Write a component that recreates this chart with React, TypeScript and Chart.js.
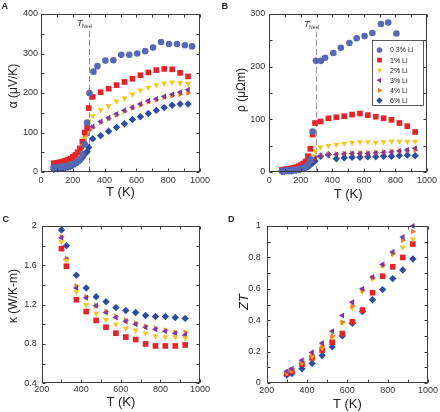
import React, { useEffect, useRef } from 'react';
import { Chart, registerables } from 'chart.js';
import { drawPoint } from 'chart.js/helpers';

Chart.register(...registerables);

const FONT = '"Liberation Sans", Arial, Helvetica, sans-serif';

// ---------- series identity ----------
const SERIES = ['0.3% Li', '1% Li', '2% Li', '3% Li', '4% Li', '6% Li'];
const COLORS = ['#5868b4', '#e4242b', '#f6c51f', '#7b3b9d', '#f07d2d', '#2d4e9e'];
const POINT_STYLES = ['circle', 'rect', 'triangle', 'triangle', 'triangle', 'rectRot'];
const ROTATIONS = [0, 0, 180, 270, 90, 0];
const RADII = [3.3, 4, 3.5, 3.5, 3.5, 3.7];

// ---------- temperatures (K) ----------
const T_LOW = [80, 95, 110, 125, 140, 155, 170, 185, 200, 215, 230, 245, 260, 275, 290];
const T_HIGH = [300, 325, 375, 425, 475, 525, 575, 625, 675, 725, 775, 825, 875, 925];
const T_HIGH_B = [325, 375, 425, 475, 525, 575, 625, 675, 725, 775, 825, 875, 925];
const T_A_CIRCLE = [305, 330, 355, 405, 455, 505, 555, 605, 655, 705, 755, 805, 855, 905, 950];
const T_B_CIRCLE = [296, 327, 354, 406, 454, 508, 554, 604, 654, 708, 754, 806];
const T_NEEL_A = 305;
const T_NEEL_B = 300;

// ---------- A: Seebeck α (μV/K) ----------
const A_CIRCLE_LOW = [11, 12, 12, 13, 14, 15, 16, 18, 20, 23, 27, 33, 45, 70, 125];
const A_CIRCLE_HIGH = [200, 254, 268, 282, 283, 297, 297, 300, 306, 315, 329, 324, 324, 321, 318];
const A_SQUARE_LOW = [22, 23, 24, 25, 27, 29, 31, 34, 38, 43, 50, 60, 77, 100, 112];
const A_SQUARE_HIGH = [162, 190, 202, 211, 220, 228, 236, 245, 252, 258, 261, 260, 251, 242];
const A_YELLOW_LOW = [18, 19, 20, 21, 22, 24, 26, 29, 33, 38, 45, 55, 68, 85, 100];
const A_YELLOW_HIGH = [128, 142, 157, 167, 179, 187, 197, 207, 214, 220, 225, 227, 226, 224];
const A_PURPLE_LOW = [15, 16, 17, 18, 20, 22, 24, 27, 31, 36, 43, 52, 64, 80, 98];
const A_PURPLE_HIGH = [108, 115, 128, 137, 147, 156, 164, 172, 180, 185, 191, 196, 202, 208];
const A_ORANGE_LOW = [20, 21, 22, 23, 25, 27, 29, 32, 36, 41, 48, 58, 72, 90, 104];
const A_ORANGE_HIGH = [106, 113, 126, 135, 145, 154, 162, 170, 178, 183, 189, 193, 197, 200];
const A_DIAMOND_LOW = [7, 8, 8, 9, 10, 11, 12, 14, 17, 20, 24, 29, 36, 45, 52];
const A_DIAMOND_HIGH = [62, 84, 92, 103, 113, 122, 133, 140, 148, 156, 163, 169, 172, 172];

// ---------- B: resistivity ρ (μΩm) ----------
const B_CIRCLE_LOW = [2, 2, 3, 3, 3, 4, 4, 5, 6, 8, 10, 14, 24, 77, null];
const B_CIRCLE_HIGH = [211, 211, 217, 226, 236, 245, 254, 258, 264, 281, 284, 263];
const B_SQUARE_LOW = [4, 5, 5, 6, 7, 8, 9, 11, 13, 16, 20, 30, 44, 71, 93];
const B_SQUARE_HIGH = [96, 102, 104, 106, 109, 111, 108, 105, 102, 99, 93, 87, 76];
const B_YELLOW_LOW = [3, 3, 4, 4, 5, 5, 6, 7, 8, 10, 12, 16, 22, 30, 40];
const B_YELLOW_HIGH = [47, 50, 52, 54, 56, 57, 57, 56, 57, 58, 58, 58, 58];
const B_PURPLE_LOW = [2, 3, 3, 3, 4, 4, 5, 6, 7, 8, 10, 13, 17, 22, 27];
const B_PURPLE_HIGH = [30, 32, 33, 34, 35, 35, 35, 36, 37, 38, 40, 42, 45];
const B_ORANGE_LOW = [3, 3, 4, 4, 5, 5, 6, 7, 8, 9, 11, 14, 19, 25, 28];
const B_ORANGE_HIGH = [31, 33, 34, 35, 36, 36, 36, 37, 38, 39, 40, 41, 42];
const B_DIAMOND_LOW = [1, 1, 2, 2, 2, 3, 3, 4, 5, 6, 8, 10, 13, 17, 21];
const B_DIAMOND_HIGH = [30, 33, 25, 27, 28, 28, 29, 29, 30, 30, 31, 32, 31];

// ---------- C: thermal conductivity κ (W/K-m) ----------
const C_SQUARE = [1.77, 1.59, 1.25, 1.13, 1.04, 0.97, 0.91, 0.87, 0.845, 0.8, 0.78, 0.78, 0.78, 0.79];
const C_YELLOW = [1.84, 1.65, 1.33, 1.2, 1.11, 1.05, 1.0, 0.96, 0.94, 0.91, 0.88, 0.87, 0.87, 0.86];
const C_PURPLE = [1.88, 1.66, 1.37, 1.27, 1.19, 1.12, 1.07, 1.03, 1.0, 0.97, 0.95, 0.93, 0.91, 0.89];
const C_ORANGE = [1.89, 1.67, 1.39, 1.28, 1.19, 1.13, 1.08, 1.04, 1.01, 0.98, 0.96, 0.94, 0.92, 0.92];
const C_DIAMOND = [1.96, 1.8, 1.5, 1.37, 1.28, 1.23, 1.17, 1.14, 1.12, 1.09, 1.08, 1.08, 1.07, 1.06];

// ---------- D: ZT ----------
const D_SQUARE = [0.06, 0.075, 0.12, 0.16, 0.21, 0.26, 0.315, 0.39, 0.465, 0.575, 0.68, 0.74, 0.8, 0.885];
const D_YELLOW = [0.065, 0.08, 0.13, 0.17, 0.225, 0.29, 0.385, 0.48, 0.585, 0.665, 0.745, 0.82, 0.865, 0.915];
const D_PURPLE = [0.075, 0.09, 0.145, 0.195, 0.255, 0.33, 0.43, 0.515, 0.6, 0.675, 0.755, 0.835, 0.93, 1.0];
const D_ORANGE = [0.07, 0.085, 0.135, 0.18, 0.235, 0.3, 0.385, 0.49, 0.59, 0.67, 0.75, 0.825, 0.91, 0.965];
const D_DIAMOND = [0.05, 0.06, 0.09, 0.125, 0.175, 0.23, 0.3, 0.38, 0.455, 0.53, 0.595, 0.665, 0.72, 0.79];

// ---------- helpers ----------
type Pt = { x: number; y: number };
function pts(xs: number[], ys: (number | null)[]): Pt[] {
  const out: Pt[] = [];
  xs.forEach((x, i) => {
    const y = ys[i];
    if (y !== null && y !== undefined) out.push({ x, y });
  });
  return out;
}

function seriesDataset(i: number, data: Pt[]) {
  return {
    label: SERIES[i],
    data,
    showLine: false,
    clip: false,
    pointStyle: POINT_STYLES[i],
    pointRotation: ROTATIONS[i],
    pointRadius: RADII[i],
    pointBorderWidth: 0,
    backgroundColor: COLORS[i],
    borderColor: COLORS[i],
  };
}

function neelDataset(t: number, yTop: number) {
  return {
    label: 'TNeel',
    data: [
      { x: t, y: 0 },
      { x: t, y: yTop },
    ],
    showLine: true,
    borderColor: '#8c8c8c',
    borderWidth: 1,
    borderDash: [6, 3],
    pointRadius: 0,
  };
}

type Panel = {
  letter: string;
  letterX: number;
  letterY: number;
  area: { left: number; top: number; right: number; bottom: number };
  xMin: number;
  xMax: number;
  xStep: number;
  xLabelStep: number;
  yMin: number;
  yMax: number;
  yStep: number;
  yLabelStep: number;
  xPad: number;
  yPad: number;
  yTitle: string;
  yTitleItalic?: boolean;
  yTitleX: number;
  yTitleY: number;
  yTitleSize: number;
  xTitleY: number;
  neel?: number;
  neelTextY?: number;
  legend?: boolean;
  datasets: any[];
};

function fmt(v: number): string {
  const r = Math.round(v * 1000) / 1000;
  if (Math.abs(r - Math.round(r)) < 1e-9) return String(Math.round(r));
  return r.toFixed(1);
}

function isMultiple(v: number, step: number) {
  const q = v / step;
  return Math.abs(q - Math.round(q)) < 1e-6;
}

function makeDecoPlugin(p: Panel) {
  return {
    id: 'deco' + p.letter,
    afterDatasetsDraw(chart: any) {
      const ctx: CanvasRenderingContext2D = chart.ctx;
      const a = chart.chartArea;
      const xs = chart.scales.x;
      const ys = chart.scales.y;
      ctx.save();
      // frame
      ctx.strokeStyle = '#3c3c3c';
      ctx.lineWidth = 1;
      const L = Math.round(a.left) + 0.5;
      const R = Math.round(a.right) - 0.5;
      const T = Math.round(a.top) + 0.5;
      const B = Math.round(a.bottom) - 0.5;
      ctx.strokeRect(L, T, R - L, B - T);
      // inward ticks
      ctx.beginPath();
      xs.ticks.forEach((t: any) => {
        const px = Math.round(xs.getPixelForValue(t.value)) + 0.5;
        ctx.moveTo(px, B);
        ctx.lineTo(px, B - 3);
        ctx.moveTo(px, T);
        ctx.lineTo(px, T + 3);
      });
      ys.ticks.forEach((t: any) => {
        const py = Math.round(ys.getPixelForValue(t.value)) + 0.5;
        ctx.moveTo(L, py);
        ctx.lineTo(L + 3, py);
        ctx.moveTo(R, py);
        ctx.lineTo(R - 3, py);
      });
      ctx.stroke();

      // legend
      if (p.legend) {
        const bx = 152.5, by = 40.5, bw = 51, bh = 65;
        ctx.fillStyle = '#ffffff';
        ctx.fillRect(bx, by, bw, bh);
        ctx.strokeStyle = '#333';
        ctx.lineWidth = 0.8;
        ctx.strokeRect(bx, by, bw, bh);
        ctx.font = `7px ${FONT}`;
        ctx.textBaseline = 'middle';
        ctx.textAlign = 'left';
        SERIES.forEach((s, i) => {
          const y = 50 + i * 10.1;
          ctx.fillStyle = COLORS[i];
          drawPoint(ctx, { pointStyle: POINT_STYLES[i], rotation: ROTATIONS[i], radius: RADII[i] * 0.85, borderWidth: 0 } as any, 159.5, y);
          ctx.fillStyle = '#222';
          ctx.fillText(s, 170, y + 0.5);
        });
      }
      ctx.restore();
    },
    afterDraw(chart: any) {
      const ctx: CanvasRenderingContext2D = chart.ctx;
      const a = chart.chartArea;
      const xs = chart.scales.x;
      ctx.save();
      ctx.fillStyle = '#222';
      // panel letter
      ctx.font = `bold 9px ${FONT}`;
      ctx.textAlign = 'left';
      ctx.textBaseline = 'top';
      ctx.fillText(p.letter, p.letterX, p.letterY);
      // x title
      ctx.font = `13px ${FONT}`;
      ctx.textAlign = 'center';
      ctx.textBaseline = 'middle';
      ctx.fillText('T (K)', (a.left + a.right) / 2, p.xTitleY);
      // y title
      ctx.save();
      ctx.translate(p.yTitleX, p.yTitleY);
      ctx.rotate(-Math.PI / 2);
      ctx.font = `${p.yTitleItalic ? 'italic ' : ''}${p.yTitleSize}px ${FONT}`;
      ctx.fillText(p.yTitle, 0, 0);
      ctx.restore();
      // T_Neel label
      if (p.neel !== undefined) {
        const px = xs.getPixelForValue(p.neel);
        const by = p.neelTextY ?? 26;
        ctx.fillStyle = '#333';
        ctx.textAlign = 'left';
        ctx.textBaseline = 'alphabetic';
        ctx.font = `italic 9px ${FONT}`;
        ctx.fillText('T', px - 12.5, by);
        ctx.font = `5px ${FONT}`;
        ctx.fillText('Neel', px - 7.5, by + 2);
      }
      ctx.restore();
    },
  };
}

function buildConfig(p: Panel): any {
  const W = 220, H = 206;
  const tickFont = { family: FONT, size: 9 };
  return {
    type: 'scatter',
    data: { datasets: p.datasets },
    options: {
      animation: false,
      responsive: false,
      devicePixelRatio: 1,
      events: [],
      layout: { padding: { left: 0, top: p.area.top, right: W - p.area.right, bottom: 0 } },
      plugins: { legend: { display: false }, tooltip: { enabled: false } },
      scales: {
        x: {
          type: 'linear',
          min: p.xMin,
          max: p.xMax,
          afterFit: (s: any) => {
            s.height = H - p.area.bottom;
          },
          grid: { display: false, drawTicks: false },
          border: { display: false },
          ticks: {
            stepSize: p.xStep,
            autoSkip: false,
            maxRotation: 0,
            padding: p.xPad,
            color: '#333',
            font: tickFont,
            callback: (v: number) => (isMultiple(v, p.xLabelStep) ? fmt(v) : ''),
          },
        },
        y: {
          type: 'linear',
          min: p.yMin,
          max: p.yMax,
          afterFit: (s: any) => {
            s.width = p.area.left;
          },
          grid: { display: false, drawTicks: false },
          border: { display: false },
          ticks: {
            stepSize: p.yStep,
            autoSkip: false,
            padding: p.yPad,
            color: '#333',
            font: tickFont,
            callback: (v: number) => (isMultiple(v, p.yLabelStep) ? fmt(v) : ''),
          },
        },
      },
    },
    plugins: [makeDecoPlugin(p)],
  };
}

// ---------- panels ----------
function panelA(): Panel {
  return {
    letter: 'A', letterX: 1.5, letterY: 2,
    area: { left: 41, top: 14, right: 200, bottom: 172 },
    xMin: 0, xMax: 1000, xStep: 100, xLabelStep: 200,
    yMin: 0, yMax: 400, yStep: 50, yLabelStep: 100,
    xPad: 3, yPad: 3,
    yTitle: 'α (μV/K)', yTitleX: 14, yTitleY: 86, yTitleSize: 12,
    xTitleY: 192,
    neel: T_NEEL_A, neelTextY: 26,
    datasets: [
      seriesDataset(0, [...pts(T_LOW, A_CIRCLE_LOW), ...pts(T_A_CIRCLE, A_CIRCLE_HIGH)]),
      seriesDataset(1, [...pts(T_LOW, A_SQUARE_LOW), ...pts(T_HIGH, A_SQUARE_HIGH)]),
      seriesDataset(2, [...pts(T_LOW, A_YELLOW_LOW), ...pts(T_HIGH, A_YELLOW_HIGH)]),
      seriesDataset(3, [...pts(T_LOW, A_PURPLE_LOW), ...pts(T_HIGH, A_PURPLE_HIGH)]),
      seriesDataset(4, [...pts(T_LOW, A_ORANGE_LOW), ...pts(T_HIGH, A_ORANGE_HIGH)]),
      seriesDataset(5, [...pts(T_LOW, A_DIAMOND_LOW), ...pts(T_HIGH, A_DIAMOND_HIGH)]),
      neelDataset(T_NEEL_A, 365),
    ],
  };
}

function panelB(): Panel {
  return {
    letter: 'B', letterX: 1.5, letterY: 2,
    area: { left: 49.3, top: 14, right: 209.3, bottom: 172 },
    xMin: 0, xMax: 1000, xStep: 100, xLabelStep: 200,
    yMin: 0, yMax: 300, yStep: 50, yLabelStep: 100,
    xPad: 3, yPad: 4,
    yTitle: 'ρ (μΩm)', yTitleX: 22, yTitleY: 90, yTitleSize: 12,
    xTitleY: 194,
    neel: T_NEEL_B, neelTextY: 27,
    legend: true,
    datasets: [
      seriesDataset(0, [...pts(T_LOW, B_CIRCLE_LOW), ...pts(T_B_CIRCLE, B_CIRCLE_HIGH)]),
      seriesDataset(1, [...pts(T_LOW, B_SQUARE_LOW), ...pts(T_HIGH_B, B_SQUARE_HIGH)]),
      seriesDataset(2, [...pts(T_LOW, B_YELLOW_LOW), ...pts(T_HIGH_B, B_YELLOW_HIGH)]),
      seriesDataset(3, [...pts(T_LOW, B_PURPLE_LOW), ...pts(T_HIGH_B, B_PURPLE_HIGH)]),
      seriesDataset(4, [...pts(T_LOW, B_ORANGE_LOW), ...pts(T_HIGH_B, B_ORANGE_HIGH)]),
      seriesDataset(5, [...pts(T_LOW, B_DIAMOND_LOW), ...pts(T_HIGH_B, B_DIAMOND_HIGH)]),
      neelDataset(T_NEEL_B, 266),
    ],
  };
}

function panelC(): Panel {
  return {
    letter: 'C', letterX: 2.5, letterY: 9.5,
    area: { left: 41.7, top: 20, right: 200, bottom: 177.3 },
    xMin: 200, xMax: 1000, xStep: 100, xLabelStep: 200,
    yMin: 0.4, yMax: 2, yStep: 0.2, yLabelStep: 0.4,
    xPad: 1, yPad: 5,
    yTitle: 'κ (W/K-m)', yTitleX: 14, yTitleY: 90, yTitleSize: 12,
    xTitleY: 196.5,
    datasets: [
      seriesDataset(1, pts(T_HIGH, C_SQUARE)),
      seriesDataset(2, pts(T_HIGH, C_YELLOW)),
      seriesDataset(3, pts(T_HIGH, C_PURPLE)),
      seriesDataset(4, pts(T_HIGH, C_ORANGE)),
      seriesDataset(5, pts(T_HIGH, C_DIAMOND)),
    ],
  };
}

function panelD(): Panel {
  return {
    letter: 'D', letterX: 8, letterY: 9.5,
    area: { left: 46.7, top: 20, right: 209.3, bottom: 177 },
    xMin: 200, xMax: 1000, xStep: 100, xLabelStep: 200,
    yMin: 0, yMax: 1, yStep: 0.1, yLabelStep: 0.2,
    xPad: 2, yPad: 6,
    yTitle: 'ZT', yTitleItalic: true, yTitleX: 24, yTitleY: 96, yTitleSize: 13,
    xTitleY: 198.5,
    datasets: [
      seriesDataset(3, pts(T_HIGH, D_PURPLE)),
      seriesDataset(4, pts(T_HIGH, D_ORANGE)),
      seriesDataset(2, pts(T_HIGH, D_YELLOW)),
      seriesDataset(1, pts(T_HIGH, D_SQUARE)),
      seriesDataset(5, pts(T_HIGH, D_DIAMOND)),
    ],
  };
}

function ChartPanel({ make, left, top }: { make: () => Panel; left: number; top: number }) {
  const ref = useRef<HTMLCanvasElement>(null);
  useEffect(() => {
    if (!ref.current) return;
    const chart = new Chart(ref.current, buildConfig(make()));
    return () => chart.destroy();
  }, [make]);
  return (
    <div style={{ position: 'absolute', left, top, width: 220, height: 206 }}>
      <canvas ref={ref} width={220} height={206} style={{ width: 220, height: 206, display: 'block' }} />
    </div>
  );
}

export default function App() {
  return (
    <div style={{ position: 'absolute', left: 0, top: 0, width: 440, height: 412, background: '#ffffff', overflow: 'hidden' }}>
      <ChartPanel make={panelA} left={0} top={0} />
      <ChartPanel make={panelB} left={220} top={0} />
      <ChartPanel make={panelC} left={0} top={206} />
      <ChartPanel make={panelD} left={220} top={206} />
    </div>
  );
}
